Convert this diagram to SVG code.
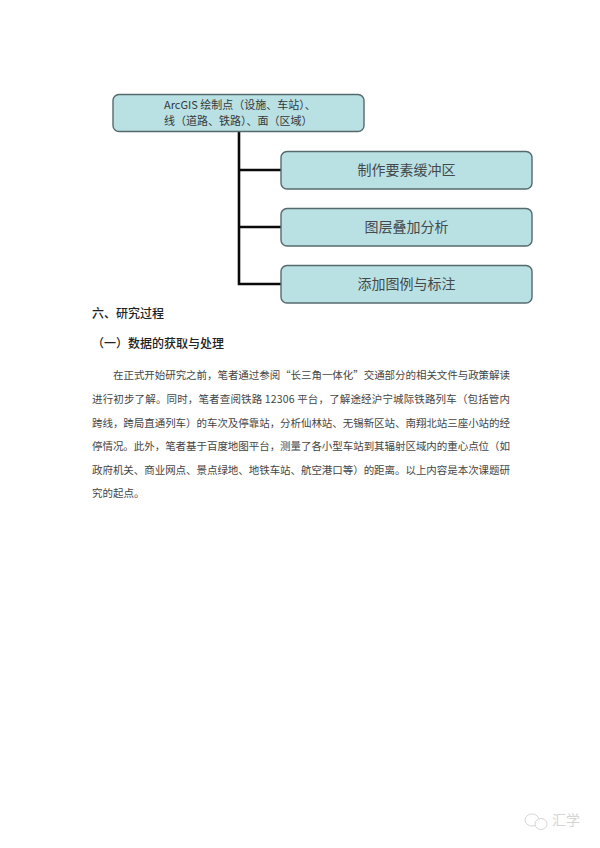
<svg xmlns="http://www.w3.org/2000/svg" width="600" height="848" viewBox="0 0 600 848">
<style>
text{font-family:"Noto Sans CJK SC","Noto Sans",sans-serif;fill:#3a3a3a}
.box{fill:#b9e0e3;stroke:#566a6e;stroke-width:1.4}
.link{fill:none;stroke:#0a0a0a;stroke-width:2.6;stroke-linejoin:miter}
.big{font-size:14px;text-anchor:middle;fill:#44494a}
.small{font-size:11px;fill:#33393a}
.body{font-size:10.5px;fill:#444}
.head{font-size:12px;fill:#222;font-weight:500}
.mark{fill:#fff;stroke:#d6d6d6;stroke-width:1}
</style>
<rect width="600" height="848" fill="#fff"/>
<g id="connectors">
<path class="link" d="M239 132V284H281M239 170H281M239 227H281"/>
</g>
<g id="node-root">
<rect class="box" x="113" y="94.500" width="251" height="37" rx="6"/>
<text class="small" x="164" y="109">ArcGIS 绘制点（设施、车站）、</text>
<text class="small" x="164" y="124.500">线（道路、铁路）、面（区域）</text>
</g>
<g id="node-buffer">
<rect class="box" x="281" y="151.500" width="251" height="37.500" rx="6"/>
<text class="big" x="406.500" y="175">制作要素缓冲区</text>
</g>
<g id="node-overlay">
<rect class="box" x="281" y="208.500" width="251" height="37.500" rx="6"/>
<text class="big" x="406.500" y="232">图层叠加分析</text>
</g>
<g id="node-legend">
<rect class="box" x="281" y="265.500" width="251" height="37.500" rx="6"/>
<text class="big" x="406.500" y="289">添加图例与标注</text>
</g>
<text class="head" x="92" y="318" textLength="72" lengthAdjust="spacing">六、研究过程</text>
<text class="head" x="92" y="348" textLength="132" lengthAdjust="spacing">（一）数据的获取与处理</text>
<text class="body" x="113" y="379" textLength="397" lengthAdjust="spacing">在正式开始研究之前，笔者通过参阅“长三角一体化”交通部分的相关文件与政策解读</text>
<text class="body" x="92" y="403" textLength="418" lengthAdjust="spacing">进行初步了解。同时，笔者查阅铁路 12306 平台，了解途经沪宁城际铁路列车（包括管内</text>
<text class="body" x="92" y="426.500" textLength="418" lengthAdjust="spacing">跨线，跨局直通列车）的车次及停靠站，分析仙林站、无锡新区站、南翔北站三座小站的经</text>
<text class="body" x="92" y="450" textLength="418" lengthAdjust="spacing">停情况。此外，笔者基于百度地图平台，测量了各小型车站到其辐射区域内的重心点位（如</text>
<text class="body" x="92" y="473.500" textLength="418" lengthAdjust="spacing">政府机关、商业网点、景点绿地、地铁车站、航空港口等）的距离。以上内容是本次课题研</text>
<text class="body" x="92" y="497">究的起点。</text>
<ellipse class="mark" cx="532" cy="820" rx="7" ry="6"/>
<ellipse class="mark" cx="541" cy="824" rx="6" ry="5.500"/>
<text x="552" y="825" font-size="14" style="fill:#d4d4d4">汇学</text>
</svg>
